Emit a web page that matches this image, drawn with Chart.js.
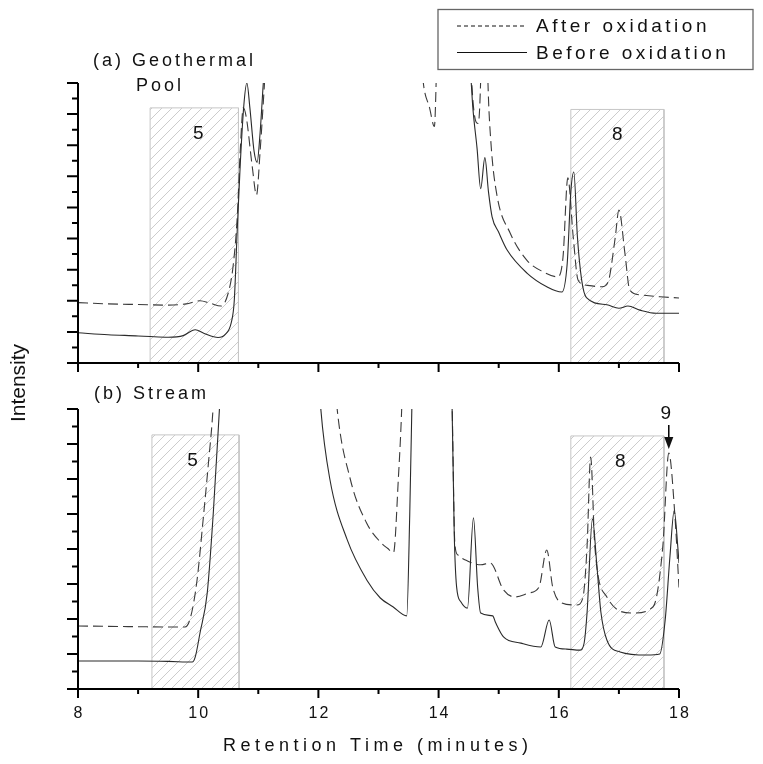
<!DOCTYPE html>
<html>
<head>
<meta charset="utf-8">
<script src="https://cdn.jsdelivr.net/npm/chart.js@4"></script>
<style>
  body { margin: 0; background: #fff; }
  #wrap { position: relative; width: 763px; height: 764px; }
  canvas { position: absolute; left: 0; top: 0; }
</style>
</head>
<body>
<div id="wrap">
  <canvas id="poolChart" width="763" height="764"></canvas>
  <canvas id="streamChart" width="763" height="764"></canvas>
</div>
<script>
// ---- data ----
const seriesLabels = ['After oxidation', 'Before oxidation'];
const xMin = 8, xMax = 18;
const xMajorTicks = [8, 10, 12, 14, 16, 18];
const xMinorTicks = [9, 11, 13, 15, 17];

// (a) Geothermal Pool
const poolYMax = 9;
const poolYMajor = [0, 1, 2, 3, 4, 5, 6, 7, 8, 9];
const poolYMinor = [0.5, 1.5, 2.5, 3.5, 4.5, 5.5, 6.5, 7.5, 8.5];
const poolAfterX = [8.0, 8.5, 9.0, 9.5, 9.8, 10.03, 10.2, 10.38, 10.5, 10.58, 10.65, 10.7, 10.75, 10.8, 10.9, 10.97, 11.03, 11.1, 11.15, 11.3, 13.6, 13.74, 13.85, 13.93, 13.96, 14.0, 14.5, 14.55, 14.66, 14.7, 14.74, 14.78, 14.82, 14.87, 14.97, 15.19, 15.47, 15.74, 15.98, 16.07, 16.15, 16.24, 16.32, 16.46, 16.72, 16.82, 16.94, 17.0, 17.1, 17.18, 17.35, 17.68, 18.0];
const poolAfterY = [1.94, 1.9, 1.88, 1.86, 1.9, 2.0, 1.92, 1.83, 2.25, 3.1, 4.7, 6.85, 8.2, 7.9, 6.3, 5.4, 6.8, 8.9, 10.5, 13, 13, 9.1, 8.2, 7.6, 9.1, 13, 13, 9.1, 7.7, 9.1, 13, 13, 9.1, 7.1, 5.4, 4.18, 3.3, 2.93, 2.77, 3.4, 5.95, 4.05, 2.67, 2.5, 2.45, 2.6, 4.05, 4.92, 3.53, 2.35, 2.19, 2.13, 2.09];
const poolBeforeX = [8.0, 8.5, 9.0, 9.2, 9.5, 9.75, 9.95, 10.1, 10.33, 10.45, 10.55, 10.6, 10.65, 10.7, 10.76, 10.81, 10.86, 10.93, 10.98, 11.03, 11.08, 11.12, 11.3, 14.4, 14.54, 14.57, 14.64, 14.7, 14.77, 14.83, 14.89, 15.0, 15.14, 15.47, 15.8, 16.05, 16.14, 16.2, 16.25, 16.31, 16.38, 16.46, 16.8, 17.0, 17.15, 17.35, 17.62, 18.0];
const poolBeforeY = [0.97, 0.91, 0.87, 0.85, 0.83, 0.88, 1.07, 0.95, 0.82, 0.92, 1.3, 2.0, 4.3, 6.4, 8.3, 9.0, 8.2, 6.8, 6.45, 7.4, 8.9, 10.0, 13, 13, 9.1, 8.2, 6.9, 5.6, 6.6, 5.5, 4.7, 4.2, 3.63, 2.89, 2.45, 2.28, 3.2, 5.5, 6.14, 4.05, 2.67, 2.1, 1.87, 1.76, 1.83, 1.7, 1.6, 1.6];
const poolZoneX = [[9.2, 10.67], [16.2, 17.75]];
const poolZoneTop = [8.2, 8.15];
const poolZoneLabels = ['5', '8'];

// (b) Stream
const streamYMax = 8;
const streamYMajor = [0, 1, 2, 3, 4, 5, 6, 7, 8];
const streamYMinor = [0.5, 1.5, 2.5, 3.5, 4.5, 5.5, 6.5, 7.5];
const streamAfterX = [8.0, 8.5, 9.0, 9.5, 9.78, 9.87, 9.98, 10.08, 10.17, 10.25, 10.3, 10.5, 12.15, 12.3, 12.53, 12.8, 13.03, 13.15, 13.25, 13.33, 13.39, 13.45, 14.1, 14.22, 14.27, 14.32, 14.48, 14.7, 14.86, 15.08, 15.27, 15.5, 15.67, 15.8, 15.9, 16.05, 16.3, 16.4, 16.47, 16.53, 16.6, 16.8, 17.23, 17.57, 17.73, 17.83, 17.93, 18.0];
const streamAfterY = [1.8, 1.79, 1.78, 1.77, 1.77, 2.03, 3.1, 4.8, 6.45, 8.1, 10, 12, 12, 8.2, 6.0, 4.75, 4.2, 4.02, 3.9, 6.0, 8.2, 12, 12, 8.5, 4.17, 3.83, 3.66, 3.55, 3.6, 2.83, 2.63, 2.74, 2.91, 3.97, 2.9, 2.46, 2.4, 2.6, 4.06, 6.63, 4.06, 2.63, 2.17, 2.35, 4.06, 6.74, 5.0, 2.9];
const streamBeforeX = [8.0, 8.5, 9.0, 9.5, 9.9, 9.95, 10.03, 10.15, 10.25, 10.36, 10.42, 10.6, 11.9, 12.04, 12.19, 12.48, 12.81, 13.03, 13.24, 13.47, 13.52, 13.56, 13.6, 14.1, 14.22, 14.26, 14.3, 14.37, 14.48, 14.58, 14.65, 14.7, 14.9, 14.95, 15.08, 15.37, 15.7, 15.84, 15.94, 16.13, 16.35, 16.42, 16.47, 16.56, 16.63, 16.7, 16.8, 17.02, 17.47, 17.68, 17.77, 17.85, 17.92, 17.98, 18.0];
const streamBeforeY = [0.8, 0.8, 0.8, 0.79, 0.77, 0.91, 1.6, 2.74, 5.0, 8.2, 10, 12, 12, 8.0, 6.0, 4.26, 3.1, 2.6, 2.35, 2.09, 5.0, 8.5, 12, 12, 8.5, 4.46, 2.91, 2.49, 2.31, 4.89, 2.9, 2.17, 2.09, 1.89, 1.49, 1.31, 1.2, 1.97, 1.2, 1.14, 1.11, 1.3, 2.17, 4.86, 3.6, 2.2, 1.4, 1.06, 0.97, 1.0, 1.97, 3.8, 5.1, 4.06, 3.6];
const streamZoneX = [[9.23, 10.68], [16.2, 17.75]];
const streamZoneTop = [7.26, 7.23];
const streamZoneLabels = ['5', '8'];
const streamPeakLabel = '9';
const streamPeakX = 17.83;

const FONT = '"Liberation Sans", Arial, sans-serif';

function pts(xs, ys) { return xs.map((x, i) => ({ x: x, y: ys[i] })); }

function makeHatch() {
    const c = document.createElement('canvas');
    c.width = 10; c.height = 10;
    const g = c.getContext('2d');
    g.strokeStyle = '#cccccc';
    g.lineWidth = 1;
    g.beginPath();
    g.moveTo(0, 10); g.lineTo(10, 0);
    g.moveTo(-5, 5); g.lineTo(5, -5);
    g.moveTo(5, 15); g.lineTo(15, 5);
    g.stroke();
    return g.createPattern(c, 'repeat');
}
const hatch = makeHatch();

function zoneSet(x0x1, top) {
    return {
        data: [{ x: x0x1[0], y: 0 }, { x: x0x1[0], y: top }, { x: x0x1[1], y: top }, { x: x0x1[1], y: 0 }],
        borderColor: '#c6c6c6', borderWidth: 1, backgroundColor: hatch,
        fill: 'origin', pointRadius: 0, tension: 0, order: 5
    };
}

function curveSets(afterX, afterY, beforeX, beforeY) {
    return [
        { label: seriesLabels[0], data: pts(afterX, afterY), borderColor: '#3a3a3a', borderWidth: 1.1,
          borderDash: [10, 5], pointRadius: 0, fill: false, cubicInterpolationMode: 'monotone', order: 1 },
        { label: seriesLabels[1], data: pts(beforeX, beforeY), borderColor: '#2a2a2a', borderWidth: 1.1,
          pointRadius: 0, fill: false, cubicInterpolationMode: 'monotone', order: 0 }
    ];
}

function txt(ctx, s, x, y, size, spacing, align) {
    ctx.font = size + 'px ' + FONT;
    ctx.letterSpacing = (spacing || 0) + 'px';
    ctx.textAlign = align || 'left';
    ctx.textBaseline = 'alphabetic';
    ctx.fillText(s, x, y);
}

// axes, ticks and all the annotation text
const decoPlugin = {
    id: 'deco',
    afterDatasetsDraw(chart, args, o) {
        const ctx = chart.ctx, xs = chart.scales.x, ys = chart.scales.y;
        const left = xs.getPixelForValue(xMin), right = xs.getPixelForValue(xMax);
        const bottom = ys.getPixelForValue(0), top = ys.getPixelForValue(o.yMax);
        ctx.save();
        ctx.strokeStyle = '#000';
        ctx.lineWidth = 2;
        ctx.beginPath();
        ctx.moveTo(left, top); ctx.lineTo(left, bottom); ctx.lineTo(right, bottom);
        o.yMajor.forEach(v => { const p = ys.getPixelForValue(v); ctx.moveTo(left - 11, p); ctx.lineTo(left, p); });
        o.yMinor.forEach(v => { const p = ys.getPixelForValue(v); ctx.moveTo(left - 6, p); ctx.lineTo(left, p); });
        xMajorTicks.forEach(v => { const p = xs.getPixelForValue(v); ctx.moveTo(p, bottom); ctx.lineTo(p, bottom + 9); });
        xMinorTicks.forEach(v => { const p = xs.getPixelForValue(v); ctx.moveTo(p, bottom); ctx.lineTo(p, bottom + 5); });
        ctx.stroke();

        ctx.fillStyle = '#111';
        // zone numbers
        o.zoneX.forEach((z, i) => {
            const cx = xs.getPixelForValue((z[0] + z[1]) / 2);
            txt(ctx, o.zoneLabels[i], cx + o.labelShift[i], ys.getPixelForValue(o.zoneTop[i]) + 31, 19, 0, 'center');
        });
        if (o.panel === 'a') {
            txt(ctx, '(a) Geothermal', 93, 66, 18, 3);
            txt(ctx, 'Pool', 160, 91, 18, 3, 'center');
            // legend
            ctx.strokeStyle = '#666'; ctx.lineWidth = 1.3;
            ctx.strokeRect(438, 9.5, 315, 60);
            ctx.strokeStyle = '#111'; ctx.lineWidth = 1;
            ctx.setLineDash([4, 3]);
            ctx.beginPath(); ctx.moveTo(457, 26); ctx.lineTo(527, 26); ctx.stroke();
            ctx.setLineDash([]);
            ctx.beginPath(); ctx.moveTo(457, 52.5); ctx.lineTo(527, 52.5); ctx.stroke();
            txt(ctx, seriesLabels[0], 536, 32, 19, 3.5);
            txt(ctx, seriesLabels[1], 536, 59, 19, 3.5);
        } else {
            txt(ctx, '(b) Stream', 94, 399, 18, 3);
            // tick labels
            xMajorTicks.forEach(v => txt(ctx, String(v), xs.getPixelForValue(v) + 1, 718, 16, 2, 'center'));
            txt(ctx, 'Retention Time (minutes)', 223, 751, 18, 4.5);
            // peak 9 arrow
            const px = xs.getPixelForValue(streamPeakX);
            txt(ctx, streamPeakLabel, px - 3, 419, 19, 0, 'center');
            ctx.strokeStyle = '#000'; ctx.lineWidth = 1.5;
            ctx.beginPath(); ctx.moveTo(px, 425); ctx.lineTo(px, 439); ctx.stroke();
            ctx.beginPath(); ctx.moveTo(px - 4.5, 437); ctx.lineTo(px + 4.5, 437); ctx.lineTo(px, 449); ctx.closePath(); ctx.fill();
            // y title
            ctx.save();
            ctx.translate(25, 383);
            ctx.rotate(-Math.PI / 2);
            txt(ctx, 'Intensity', 0, 0, 21, 0, 'center');
            ctx.restore();
        }
        ctx.restore();
    }
};

function makeChart(id, datasets, yMax, padding, deco) {
    return new Chart(document.getElementById(id), {
        type: 'line',
        data: { datasets: datasets },
        options: {
            responsive: false, animation: false, devicePixelRatio: 1, events: [],
            layout: { padding: padding },
            plugins: { legend: { display: false }, tooltip: { enabled: false }, deco: deco },
            scales: {
                x: { type: 'linear', min: xMin, max: xMax, display: false },
                y: { type: 'linear', min: 0, max: yMax, display: false }
            }
        },
        plugins: [decoPlugin]
    });
}

makeChart('poolChart',
    [zoneSet(poolZoneX[0], poolZoneTop[0]), zoneSet(poolZoneX[1], poolZoneTop[1])]
        .concat(curveSets(poolAfterX, poolAfterY, poolBeforeX, poolBeforeY)),
    poolYMax, { left: 78, right: 84, top: 83, bottom: 401 },
    { panel: 'a', yMax: poolYMax, yMajor: poolYMajor, yMinor: poolYMinor, zoneX: poolZoneX, zoneTop: poolZoneTop,
      zoneLabels: poolZoneLabels, labelShift: [4, 0] });

makeChart('streamChart',
    [zoneSet(streamZoneX[0], streamZoneTop[0]), zoneSet(streamZoneX[1], streamZoneTop[1])]
        .concat(curveSets(streamAfterX, streamAfterY, streamBeforeX, streamBeforeY)),
    streamYMax, { left: 78, right: 84, top: 409, bottom: 75 },
    { panel: 'b', yMax: streamYMax, yMajor: streamYMajor, yMinor: streamYMinor, zoneX: streamZoneX, zoneTop: streamZoneTop,
      zoneLabels: streamZoneLabels, labelShift: [-3, 3] });
</script>
</body>
</html>
